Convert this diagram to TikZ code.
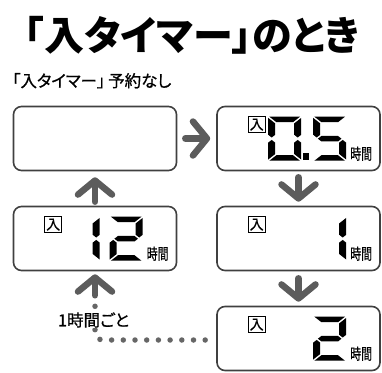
\documentclass[tikz,border=0pt]{standalone}
\usepackage{fontspec}
\usetikzlibrary{arrows.meta,calc}
\newfontfamily\jp{Noto Sans CJK JP}
\newfontfamily\jpp[RawFeature=+palt]{Noto Sans CJK JP}
\newfontfamily\jpm[RawFeature=+palt, FakeBold=0.8]{Noto Sans CJK JP}
\newfontfamily\jph[FakeBold=0.6]{Noto Sans CJK JP}
\definecolor{boxgray}{HTML}{404040}
\definecolor{arrowgray}{HTML}{5C5C5C}
\definecolor{dotgray}{HTML}{666666}
% seven segment geometry (px)
\def\sgW{33}\def\sgH{44}\def\sgV{7}\def\sgT{5.5}\def\sgG{1.2}\def\sgM{22}
\def\sga{\fill (\sgG,0) -- ({\sgW-\sgG},0) -- ({\sgW-\sgV-\sgG},\sgT) -- ({\sgV+\sgG},\sgT) -- cycle;}
\def\sgd{\fill ({\sgV+\sgG},{\sgH-\sgT}) -- ({\sgW-\sgV-\sgG},{\sgH-\sgT}) -- ({\sgW-\sgG},\sgH) -- (\sgG,\sgH) -- cycle;}
\def\sgg{\fill ({\sgV/2+\sgG},\sgM) -- ({\sgV+\sgG},{\sgM-\sgT/2}) -- ({\sgW-\sgV-\sgG},{\sgM-\sgT/2}) -- ({\sgW-\sgV/2-\sgG},\sgM) -- ({\sgW-\sgV-\sgG},{\sgM+\sgT/2}) -- ({\sgV+\sgG},{\sgM+\sgT/2}) -- cycle;}
\def\sgf{\fill (0,\sgG) -- (\sgV,{\sgT+\sgG}) -- (\sgV,{\sgM-\sgT/2-\sgG}) -- ({\sgV/2},{\sgM-\sgG}) -- (0,{\sgM-\sgT/2-\sgG}) -- cycle;}
\def\sge{\fill (0,{\sgM+\sgT/2+\sgG}) -- ({\sgV/2},{\sgM+\sgG}) -- (\sgV,{\sgM+\sgT/2+\sgG}) -- (\sgV,{\sgH-\sgT-\sgG}) -- (0,{\sgH-\sgG}) -- cycle;}
\def\sgb{\fill (\sgW,\sgG) -- (\sgW,{\sgM-\sgT/2-\sgG}) -- ({\sgW-\sgV/2},{\sgM-\sgG}) -- ({\sgW-\sgV},{\sgM-\sgT/2-\sgG}) -- ({\sgW-\sgV},{\sgT+\sgG}) -- cycle;}
\def\sgc{\fill (\sgW,{\sgM+\sgT/2+\sgG}) -- (\sgW,{\sgH-\sgG}) -- ({\sgW-\sgV},{\sgH-\sgT-\sgG}) -- ({\sgW-\sgV},{\sgM+\sgT/2+\sgG}) -- ({\sgW-\sgV/2},{\sgM+\sgG}) -- cycle;}
\newcommand\sevseg[2]{\begin{scope}[shift={#1}]\foreach \s in {#2} {\csname sg\s\endcsname}\end{scope}}
\tikzset{
  lcd/.style={draw=boxgray, line width=1.6pt, rounded corners=8pt, minimum width=163pt, minimum height=64pt, inner sep=0pt},
  inbox/.style={draw=black, line width=0.8pt, inner sep=0pt, minimum width=17pt, minimum height=16pt, font=\jph\fontsize{14}{14}\selectfont},
  hours/.style={inner sep=0pt, font=\jph\fontsize{15.5}{15.5}\selectfont},
  arr/.style={draw=arrowgray, line width=6.5pt, line cap=round, -{Straight Barb[length=14pt, width=34pt, round]}},
  dotline/.style={draw=dotgray, line width=5.5pt, line cap=round, dash pattern=on 0pt off 11.7pt},
}
\begin{document}
\begin{tikzpicture}[x=1pt, y=-1pt]
\useasboundingbox (0,0) rectangle (382,372);
\node[anchor=base west, inner sep=0pt, font=\jpp\bfseries\fontsize{40}{40}\selectfont] (title) at (24,50) {「入タイマー」のとき};
\node[anchor=base west, inner sep=0pt, font=\jpm\fontsize{16.5}{16.5}\selectfont] (sub) at (12,87) {「入タイマー」\hspace{3pt}予約なし};
\node[lcd] (A) at (95,138.5) {};
\node[lcd] (B) at (298.5,138.5) {};
\node[lcd] (C) at (298.5,238.5) {};
\node[lcd] (D) at (95,238.5) {};
\node[lcd] (E) at (298.5,338.5) {};
\foreach \b in {B,C,D,E} {
  \node[inbox] (\b in) at ($(\b.north west)+(40.5,19)$) {入};
  \node[hours] (\b h) at ($(\b.north west)+(145,48)$) {\scalebox{0.7}[1]{時間}};
}
% digits
\sevseg{($(B.north west)+(52,11)$)}{a,b,c,d,e,f}
\fill ($(B.north west)+(87,47)$) rectangle ($(B.north west)+(93,54)$);
\sevseg{($(B.north west)+(97,11)$)}{a,f,g,c,d}
\sevseg{($(C.north west)+(97,11)$)}{b,c}
\sevseg{($(D.north west)+(54,11)$)}{b,c}
\sevseg{($(D.north west)+(97,11)$)}{a,b,g,e,d}
\sevseg{($(E.north west)+(97,11)$)}{a,b,g,e,d}
% connectors
\draw[arr] ([xshift=8pt]A.east) -- ([xshift=-6pt]B.west);
\draw[arr] ([yshift=-6pt]B.south) -- ([yshift=4pt]C.north);
\draw[arr] ([yshift=-7pt]C.south) -- ([yshift=4pt]E.north);
\draw[arr] ([yshift=4pt]D.north) -- ([yshift=-6pt]A.south);
\draw[dotline, rounded corners=8pt] ([xshift=-11pt,yshift=-1.5pt]E.west) -| ([yshift=-34pt]D.south);
\draw[arr] ([yshift=-24pt]D.south) -- ([yshift=-3pt]D.south);
\node[fill=white, inner sep=0.5pt, font=\jpm\fontsize{16.5}{16.5}\selectfont] (lbl) at (93.5,320) {1時間ごと};
\end{tikzpicture}
\end{document}
